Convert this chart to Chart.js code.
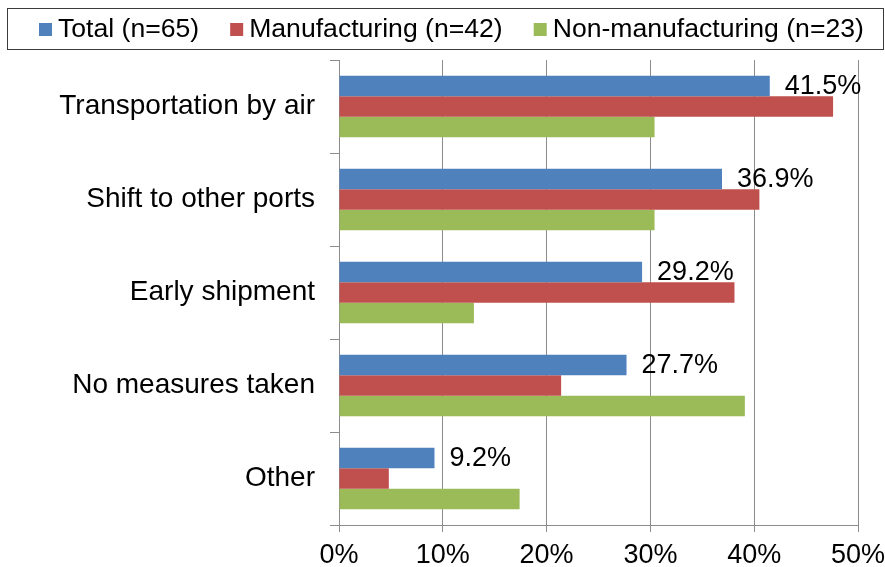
<!DOCTYPE html>
<html>
<head>
<meta charset="utf-8">
<script src="https://cdn.jsdelivr.net/npm/chart.js@4/dist/chart.umd.min.js"></script>
<style>
  html, body { margin: 0; padding: 0; background: #fff; }
  #wrap { width: 885px; height: 567px; position: relative; }
</style>
</head>
<body>
<div id="wrap"><canvas id="c" width="885" height="567"></canvas></div>
<script>
const categories = ["Transportation by air", "Shift to other ports", "Early shipment", "No measures taken", "Other"];
const seriesNames = ["Total (n=65)", "Manufacturing (n=42)", "Non-manufacturing (n=23)"];
const totalValues = [41.5, 36.9, 29.2, 27.7, 9.2];
const manufacturingValues = [47.6, 40.5, 38.1, 21.4, 4.8];
const nonManufacturingValues = [30.4, 30.4, 13.0, 39.1, 17.4];
const xTicks = [0, 10, 20, 30, 40, 50];

const colors = ["#4F81BD", "#C0504D", "#9BBB59"];
const FONT = "Liberation Sans, Arial, sans-serif";
const FS = 27;

const legendPlugin = {
  id: 'boxLegend',
  afterDraw(chart) {
    const ctx = chart.ctx;
    ctx.save();
    ctx.strokeStyle = '#3a3a3a';
    ctx.lineWidth = 1;
    ctx.strokeRect(7.5, 8.5, 876, 41);
    ctx.font = '26.6px ' + FONT;
    ctx.textBaseline = 'middle';
    let x = 39;
    const y = 29.5;
    chart.data.datasets.forEach((ds, i) => {
      ctx.fillStyle = ds.backgroundColor;
      ctx.fillRect(x, 23, 13, 13);
      x += 19;
      ctx.fillStyle = '#000';
      ctx.textAlign = 'left';
      ctx.fillText(ds.label, x, y);
      x += ctx.measureText(ds.label).width + 31;
    });
    ctx.restore();
  }
};

const valueLabels = {
  id: 'valueLabels',
  afterDatasetsDraw(chart) {
    const ctx = chart.ctx;
    const meta = chart.getDatasetMeta(0);
    ctx.save();
    ctx.font = FS + 'px ' + FONT;
    ctx.fillStyle = '#000';
    ctx.textAlign = 'left';
    ctx.textBaseline = 'middle';
    meta.data.forEach((bar, i) => {
      ctx.fillText(totalValues[i].toFixed(1) + '%', bar.x + 15, bar.y + 1);
    });
    ctx.restore();
  }
};

new Chart(document.getElementById('c'), {
  type: 'bar',
  data: {
    labels: categories,
    datasets: [
      { label: seriesNames[0], data: totalValues, backgroundColor: colors[0] },
      { label: seriesNames[1], data: manufacturingValues, backgroundColor: colors[1] },
      { label: seriesNames[2], data: nonManufacturingValues, backgroundColor: colors[2] }
    ]
  },
  options: {
    indexAxis: 'y',
    responsive: false,
    animation: false,
    layout: { padding: { top: 60, right: 27, left: 0, bottom: 0 } },
    datasets: { bar: { categoryPercentage: 0.66, barPercentage: 1.0, borderWidth: 0 } },
    plugins: {
      legend: { display: false },
      tooltip: { enabled: false }
    },
    scales: {
      x: {
        min: 0, max: 50,
        afterBuildTicks(scale) { scale.ticks = xTicks.map(v => ({ value: v })); },
        afterFit(scale) { scale.height = 42; scale.paddingLeft = 0; scale.paddingRight = 0; },
        ticks: {
          callback: v => v + '%',
          font: { size: FS, family: FONT },
          color: '#000',
          padding: 7,
          maxRotation: 0
        },
        grid: { color: '#8c8c8c', lineWidth: 1, tickLength: 7, drawOnChartArea: true },
        border: { color: '#8c8c8c', width: 1 }
      },
      y: {
        afterFit(scale) { scale.width = 339; scale.paddingTop = 0; scale.paddingBottom = 0; },
        ticks: {
          font: { size: 28, family: FONT },
          color: '#000',
          padding: 15
        },
        grid: { offset: true, drawOnChartArea: false, color: '#8c8c8c', tickLength: 9 },
        border: { color: '#8c8c8c', width: 1 }
      }
    }
  },
  plugins: [legendPlugin, valueLabels]
});
</script>
</body>
</html>
